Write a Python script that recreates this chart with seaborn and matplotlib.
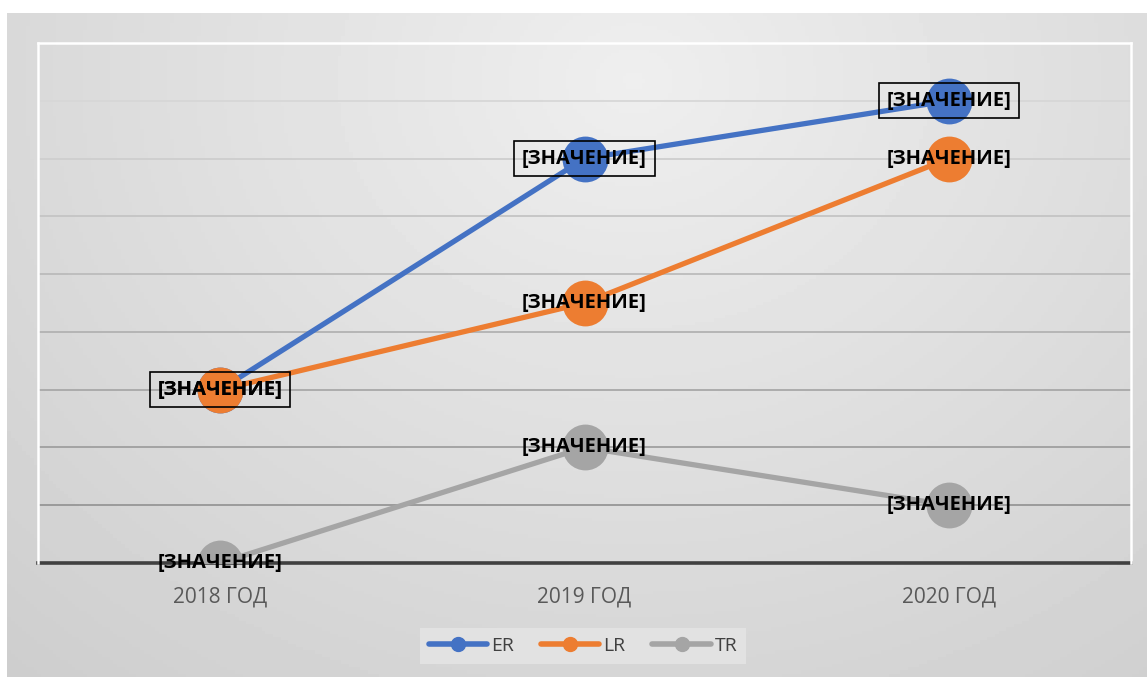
import numpy as np
import pandas as pd
import matplotlib
matplotlib.use("Agg")
import matplotlib.pyplot as plt
import seaborn as sns
from matplotlib.lines import Line2D

years = ["2018 ГОД", "2019 ГОД", "2020 ГОД"]
er = [3.0, 7.0, 8.0]
lr = [3.0, 4.5, 7.0]
tr = [0.0, 2.0, 1.0]
series_names = ["ER", "LR", "TR"]
colors = ["#4472C4", "#ED7D31", "#A5A5A5"]
label_text = "[ЗНАЧЕНИЕ]"

df = pd.DataFrame({"year": years * 3,
                   "value": er + lr + tr,
                   "series": [s for s in series_names for _ in years]})

sns.set_theme(style="white")
plt.rcParams['font.family'] = ['Open Sans', 'DejaVu Sans']

W, H = 1147, 677
fig = plt.figure(figsize=(W / 100, H / 100), dpi=100, facecolor="white")

# background gradient of chart area
bg = fig.add_axes([7 / W, 0, 1 - 7 / W, 1 - 13 / H], zorder=0)
yy, xx = np.mgrid[0:1:200j, 0:1:300j]
d = np.sqrt(((xx - 0.55) / 0.9) ** 2 + ((yy - 0.1) / 1.3) ** 2)
img = 0.935 - 0.14 * d
bg.imshow(img, cmap="gray", vmin=0, vmax=1, aspect="auto", extent=[0, 1, 1, 0])
bg.set_axis_off()

# plot area
x0, x1 = 38, 1131
y0, y1 = 43, 563
ax = fig.add_axes([x0 / W, 1 - y1 / H, (x1 - x0) / W, (y1 - y0) / H], zorder=1)
ax.patch.set_alpha(0)

sns.lineplot(data=df, x="year", y="value", hue="series", palette=colors,
             marker="o", markersize=33, linewidth=3.8, markeredgewidth=0,
             sort=False, ax=ax, legend=False, zorder=3)

ax.set_xlim(-0.5, 2.5)
ax.set_ylim(0, 9)
ax.set_yticks(range(0, 10))
ax.yaxis.grid(True)
glines = ax.get_ygridlines()
n = len(glines)
for i, gl in enumerate(glines):
    t = i / (n - 1)
    c = 0.55 + 0.33 * t
    gl.set_color((c, c, c))
    gl.set_linewidth(1.3)
ax.tick_params(axis="y", left=False, labelleft=False)
ax.tick_params(axis="x", bottom=False, labelsize=15, labelcolor="#595959", pad=11)
ax.set_xlabel("")
ax.set_ylabel("")
for s in ["left", "right", "top"]:
    ax.spines[s].set_color("white")
    ax.spines[s].set_linewidth(1.8)
ax.spines["bottom"].set_color("#404040")
ax.spines["bottom"].set_linewidth(2.6)
ax.spines["bottom"].set_zorder(2)

# data labels
for vals, boxed in [(er, True), (lr, False), (tr, False)]:
    for i, v in enumerate(vals):
        kw = dict(ha="center", va="center", fontsize=14.5, fontweight="bold",
                  color="black", zorder=5)
        if boxed:
            kw["bbox"] = dict(boxstyle="square,pad=0.38", fc="none", ec="black", lw=1.2)
        ax.text(i, v, label_text, **kw)

handles = [Line2D([0], [0], color=c, lw=4, marker="o", markersize=10) for c in colors]
leg = fig.legend(handles, series_names, loc="center", bbox_to_anchor=(583 / W, 1 - 646 / H),
                 ncol=3, frameon=True, fontsize=14, handlelength=3.0, columnspacing=1.4,
                 handletextpad=0.2, borderpad=0.45, fancybox=False)
leg.get_frame().set_facecolor("#e2e2e2")
leg.get_frame().set_edgecolor("none")
leg.get_frame().set_alpha(1)
for t in leg.get_texts():
    t.set_color("#404040")

fig.savefig("out.png", dpi=100, facecolor="white")
